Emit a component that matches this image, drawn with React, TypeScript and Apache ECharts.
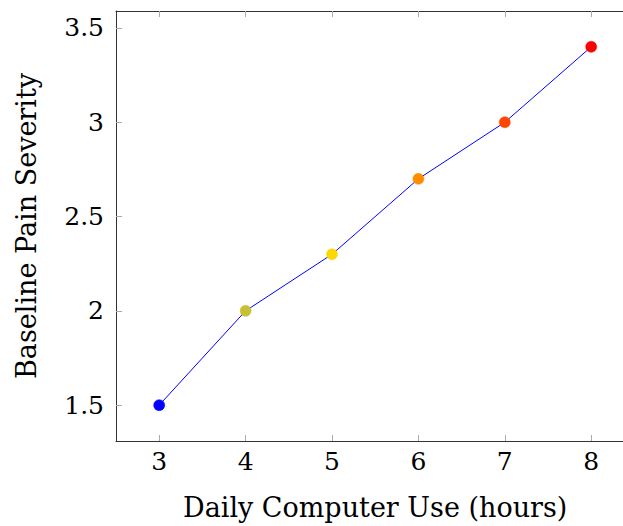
import React, { useEffect, useRef } from "react";
import * as echarts from "echarts";

const hours = [3, 4, 5, 6, 7, 8];
const severity = [1.5, 2.0, 2.3, 2.7, 3.0, 3.4];
const markerColors = ["#0000ff", "#c8c034", "#ffd700", "#ff8c00", "#ff4500", "#ff0000"];
const yTicks = [1.5, 2, 2.5, 3, 3.5];
const xLabel = "Daily Computer Use (hours)";
const yLabel = "Baseline Pain Severity";

const FONT = "DejaVu Serif";

export default function App() {
  const ref = useRef<HTMLDivElement>(null);
  useEffect(() => {
    if (!ref.current) return;
    const chart = echarts.init(ref.current, null, { renderer: "svg" });
    const axisLineStyle = { color: "#333", width: 1 };
    const tickStyle = { color: "#aaa", width: 1 };
    chart.setOption({
      animation: false,
      backgroundColor: "#fff",
      grid: { left: 116, top: 11, bottom: 85, right: 5.6, containLabel: false },
      xAxis: [
        {
          type: "value",
          min: 2.5,
          max: 8.5,
          interval: 0.5,
          position: "bottom",
          name: xLabel,
          nameLocation: "middle",
          nameGap: 53,
          nameTextStyle: { fontFamily: FONT, fontSize: 27, color: "#000" },
          axisLine: { show: true, lineStyle: axisLineStyle },
          axisTick: { show: true, inside: true, length: 6, lineStyle: tickStyle, customValues: hours },
          axisLabel: { fontFamily: FONT, fontSize: 25, color: "#000", margin: 8, customValues: hours },
          splitLine: { show: false },
        },
        {
          type: "value",
          min: 2.5,
          max: 8.5,
          interval: 0.5,
          position: "top",
          axisLine: { show: true, lineStyle: axisLineStyle },
          axisTick: { show: true, inside: true, length: 6, lineStyle: tickStyle, customValues: hours },
          axisLabel: { show: false },
          splitLine: { show: false },
        },
      ],
      yAxis: {
        type: "value",
        min: 1.31,
        max: 3.59,
        name: yLabel,
        nameLocation: "middle",
        nameGap: 76,
        nameTextStyle: { fontFamily: FONT, fontSize: 27, color: "#000" },
        axisLine: { show: true, lineStyle: axisLineStyle },
        axisTick: { show: true, inside: true, length: 6, lineStyle: tickStyle, customValues: yTicks },
        axisLabel: { fontFamily: FONT, fontSize: 25, color: "#000", margin: 12, customValues: yTicks },
        splitLine: { show: false },
      },
      series: [
        {
          type: "line",
          xAxisIndex: 0,
          data: hours.map((h, i) => ({
            value: [h, severity[i]],
            itemStyle: { color: markerColors[i], borderColor: markerColors[i], borderWidth: 0.5 },
          })),
          symbol: "circle",
          symbolSize: 11,
          lineStyle: { color: "#0000ff", width: 1 },
          z: 3,
        },
      ],
    });
    return () => chart.dispose();
  }, []);
  return (
    <div style={{ position: "fixed", left: 0, top: 0, width: 623, height: 526, overflow: "hidden" }}>
      <div ref={ref} style={{ width: 640, height: 526 }} />
    </div>
  );
}
